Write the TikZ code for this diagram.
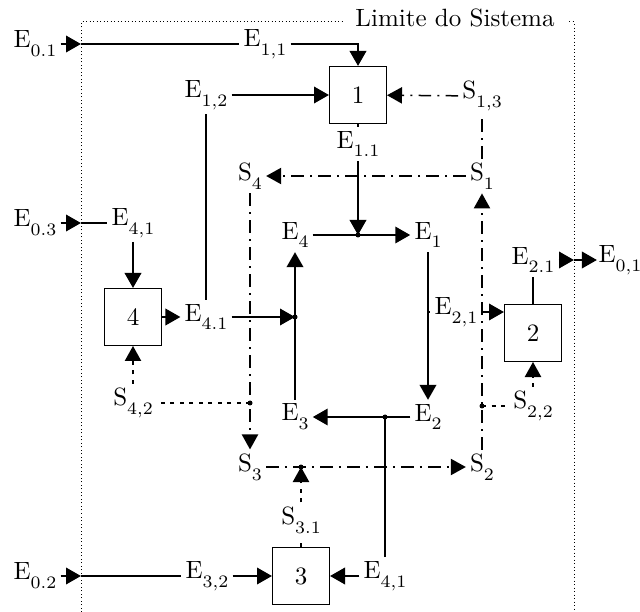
\documentclass[tikz,border=0pt]{standalone}
\usetikzlibrary{arrows.meta}
\newcommand{\ix}[1]{\raisebox{-3.5pt}{\scriptsize #1}}

\begin{document}
\begin{tikzpicture}[
  x=0.4pt, y=-0.4pt,
  >={Triangle[length=6pt, width=6.5pt]},
  proc/.style={draw, thin, minimum size=22.8pt, inner sep=0pt},
  lbl/.style={inner sep=1.5pt},
  flow/.style={line width=1.1pt},
  sig/.style={line width=0.6pt, dash pattern=on 5pt off 2.5pt on 0.8pt off 2.5pt},
  aux/.style={line width=0.6pt, dash pattern=on 1.6pt off 2.2pt},
]
  \useasboundingbox (0,0) rectangle (640,612);

  \draw[densely dotted, thin] (81,612) -- (81,22) -- (574,22) -- (574,612);
  \node[fill=white, inner xsep=5pt, inner ysep=1pt] (lim) at (455,18) {Limite do Sistema};

  \node[proc] (P1) at (358,95) {1};
  \node[proc] (P2) at (533,333) {2};
  \node[proc] (P3) at (301,576) {3};
  \node[proc] (P4) at (133,317) {4};

  \node[lbl] (E01) at (35,44) {E\ix{0.1}};
  \node[lbl] (E11) at (265,44) {E\ix{1,1}};
  \node[lbl] (E12) at (206,95) {E\ix{1,2}};
  \node[lbl] (E11b) at (358,144) {E\ix{1.1}};
  \node[lbl] (E03) at (35,223) {E\ix{0.3}};
  \node[lbl] (E41) at (133,223) {E\ix{4,1}};
  \node[lbl] (E41b) at (206,317) {E\ix{4.1}};
  \node[lbl] (E4) at (295,235) {E\ix{4}};
  \node[lbl] (E1) at (428,235) {E\ix{1}};
  \node[lbl] (E3) at (295,417) {E\ix{3}};
  \node[lbl] (E2) at (428,417) {E\ix{2}};
  \node[lbl] (E21) at (456,312) {E\ix{2,1}};
  \node[lbl] (E21b) at (533,260) {E\ix{2.1}};
  \node[lbl, inner sep=0.5pt] (E01s) at (620,260) {E\ix{0,1}};
  \node[lbl] (E02) at (35,576) {E\ix{0.2}};
  \node[lbl] (E32) at (207,576) {E\ix{3,2}};
  \node[lbl] (E41c) at (385,576) {E\ix{4,1}};

  \node[lbl] (S13) at (482,96) {S\ix{1,3}};
  \node[lbl] (S1) at (482,176) {S\ix{1}};
  \node[lbl] (S4) at (250,176) {S\ix{4}};
  \node[lbl] (S42) at (133,403) {S\ix{4,2}};
  \node[lbl] (S22) at (533,406) {S\ix{2,2}};
  \node[lbl] (S3) at (250,467) {S\ix{3}};
  \node[lbl] (S2) at (482,467) {S\ix{2}};
  \node[lbl] (S31) at (301,520) {S\ix{3.1}};

  \coordinate (in1) at (81,44);
  \coordinate (in3) at (81,223);
  \coordinate (in2) at (81,576);
  \coordinate (out1) at (574,260);
  \coordinate (j1) at (E11b |- E4);
  \coordinate (j2) at (E4 |- E41b);
  \coordinate (j3) at (E41c |- E2);
  \coordinate (j4) at (S4 |- S42);
  \coordinate (j5) at (S1 |- S22);
  \coordinate (j6) at (S31 |- S3);
  \coordinate (j7) at (E1 |- E21);

  \draw[flow, ->] (E01) -- (in1);
  \draw[flow] (in1) -- (E11);
  \draw[flow, ->] (E11) -| (P1);
  \draw[flow, ->] (E12) -- (P1);
  \draw[flow] (E41b) -- (E12);
  \draw[flow] (P1) -- (E11b);
  \draw[flow, ->] (E11b) -- (j1);
  \draw[flow, ->] (E4) -- (E1);
  \draw[flow, ->] (E1) -- (E2);
  \draw[flow, ->] (E2) -- (E3);
  \draw[flow, ->] (E3) -- (E4);
  \draw[flow, ->] (E03) -- (in3);
  \draw[flow] (in3) -- (E41);
  \draw[flow, ->] (E41) -- (P4);
  \draw[flow, ->] (P4) -- (E41b);
  \draw[flow, ->] (E41b) -- (j2);
  \draw[flow] (j7) -- (E21);
  \draw[flow, ->] (E21) -- (E21 -| P2.west);
  \draw[flow] (E21b) -- (P2);
  \draw[flow, ->] (E21b) -- (out1);
  \draw[flow, ->] (out1) -- (E01s);
  \draw[flow, ->] (E02) -- (in2);
  \draw[flow] (in2) -- (E32);
  \draw[flow, ->] (E32) -- (P3);
  \draw[flow] (E41c) -- (j3);
  \draw[flow, ->] (E41c) -- (P3);

  \draw[sig, ->] (S13) -- (P1);
  \draw[sig] (S1) -- (S13);
  \draw[sig, ->] (S1) -- (S4);
  \draw[sig, ->] (S4) -- (S3);
  \draw[sig, ->] (S3) -- (S2);
  \draw[sig, ->] (S2) -- (S1);
  \draw[aux] (j4) -- (S42);
  \draw[aux, ->] (S42) -- (P4);
  \draw[aux] (j5) -- (S22);
  \draw[aux, ->] (S22) -- (P2);
  \draw[aux] (P3) -- (S31);
  \draw[aux, ->] (S31) -- (j6);

  \foreach \j in {j1,j2,j3,j4,j5,j6}
    \fill (\j) circle (1pt);
\end{tikzpicture}
\end{document}
